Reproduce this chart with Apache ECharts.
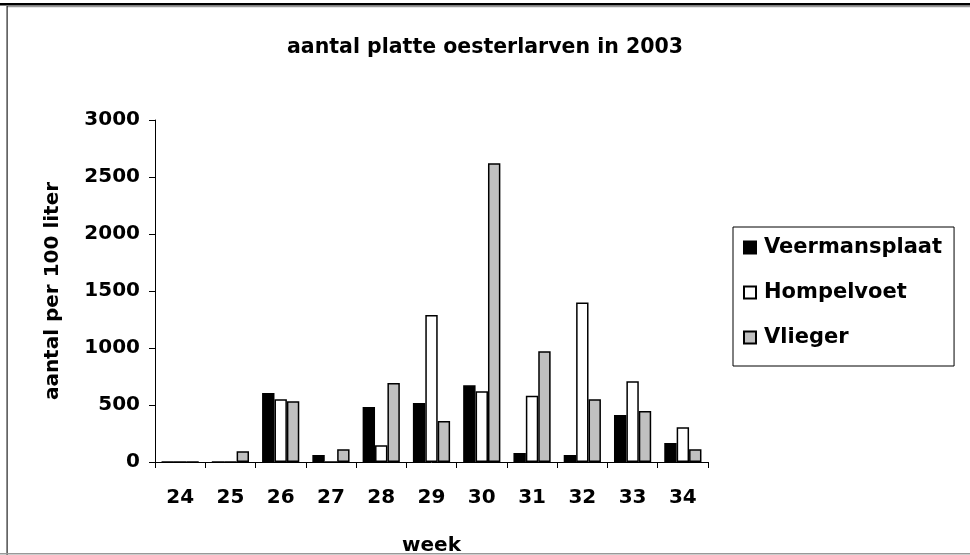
<!DOCTYPE html>
<html>
<head>
<meta charset="utf-8">
<title>aantal platte oesterlarven in 2003</title>
<script src="https://cdn.jsdelivr.net/npm/echarts@6/dist/echarts.min.js"></script>
<style>
  html, body { margin: 0; padding: 0; background: #fff; }
  #chart { width: 970px; height: 555px; }
</style>
</head>
<body>
<div id="chart"></div>
<script>
// data
const weeks = ['24', '25', '26', '27', '28', '29', '30', '31', '32', '33', '34']
const veermansplaat = [0, 0, 605, 61, 482, 517, 673, 79, 61, 412, 167]
const hompelvoet = [0, 0, 550, 0, 146, 1290, 620, 582, 1400, 708, 304]
const vlieger = [0, 94, 533, 111, 693, 360, 2620, 971, 550, 447, 111]

const font = 'DejaVu Sans'
const barColors = ['#000000', '#ffffff', '#c0c0c0']
const seriesNames = ['Veermansplaat', 'Hompelvoet', 'Vlieger']
const seriesData = [veermansplaat, hompelvoet, vlieger]

const chart = echarts.init(document.getElementById('chart'), null, { renderer: 'canvas' })

let series = []
for (let i = 0; i < seriesData.length; i++) {
  series.push({
    name: seriesNames[i],
    type: 'bar',
    data: seriesData[i],
    barGap: '0%',
    barCategoryGap: '26%',
    itemStyle: {
      color: barColors[i],
      borderColor: '#000',
      borderWidth: 1.5
    },
    emphasis: { disabled: true },
    animation: false
  })
}

const options = {
  backgroundColor: '#fff',
  animation: false,
  title: {
    text: 'aantal platte oesterlarven in 2003',
    left: 'center',
    top: 32,
    textStyle: { fontFamily: font, fontWeight: 'bold', fontSize: 20.5, color: '#000' }
  },
  grid: {
    left: 155,
    right: 262,
    top: 120,
    bottom: 93,
    containLabel: false,
    outerBoundsMode: 'none'
  },
  legend: {
    orient: 'vertical',
    left: 733,
    top: 227,
    icon: 'rect',
    itemWidth: 12,
    itemHeight: 12,
    itemGap: 24,
    padding: [10, 12, 18, 10],
    borderColor: '#000',
    borderWidth: 1,
    data: seriesNames,
    textStyle: { fontFamily: font, fontWeight: 'bold', fontSize: 21, color: '#000', lineHeight: 20, padding: [0, 0, 0, 3] }
  },
  xAxis: {
    type: 'category',
    data: weeks,
    name: 'week',
    nameLocation: 'middle',
    nameGap: 74,
    nameTextStyle: { fontFamily: font, fontWeight: 'bold', fontSize: 20, color: '#000' },
    axisLine: { lineStyle: { color: '#000', width: 1 } },
    axisTick: { show: true, inside: false, length: 6, alignWithLabel: false, lineStyle: { color: '#000' } },
    axisLabel: { margin: 26, fontFamily: font, fontWeight: 'bold', fontSize: 20, color: '#000' },
    splitLine: { show: false }
  },
  yAxis: {
    type: 'value',
    min: 0,
    max: 3000,
    interval: 500,
    name: 'aantal per 100 liter',
    nameLocation: 'middle',
    nameGap: 92,
    nameTextStyle: { fontFamily: font, fontWeight: 'bold', fontSize: 20, color: '#000' },
    axisLine: { show: true, lineStyle: { color: '#000', width: 1 } },
    axisTick: { show: true, length: 6, lineStyle: { color: '#000' } },
    axisLabel: {
      margin: 15, fontFamily: font, fontWeight: 'bold', fontSize: 20, color: '#000',
      formatter: function (v) { return String(v) }
    },
    splitLine: { show: false }
  },
  // frame around the picture
  graphic: [
    { type: 'rect', shape: { x: 0, y: 3, width: 970, height: 2.5 }, style: { fill: '#000' }, silent: true },
    { type: 'rect', shape: { x: 7, y: 6, width: 963, height: 1.2 }, style: { fill: '#999' }, silent: true },
    { type: 'rect', shape: { x: 6.5, y: 6, width: 1.2, height: 549 }, style: { fill: '#222' }, silent: true },
    { type: 'rect', shape: { x: 0, y: 553, width: 970, height: 1.5 }, style: { fill: '#999' }, silent: true }
  ],
  series: series
}

chart.setOption(options)
</script>
</body>
</html>
